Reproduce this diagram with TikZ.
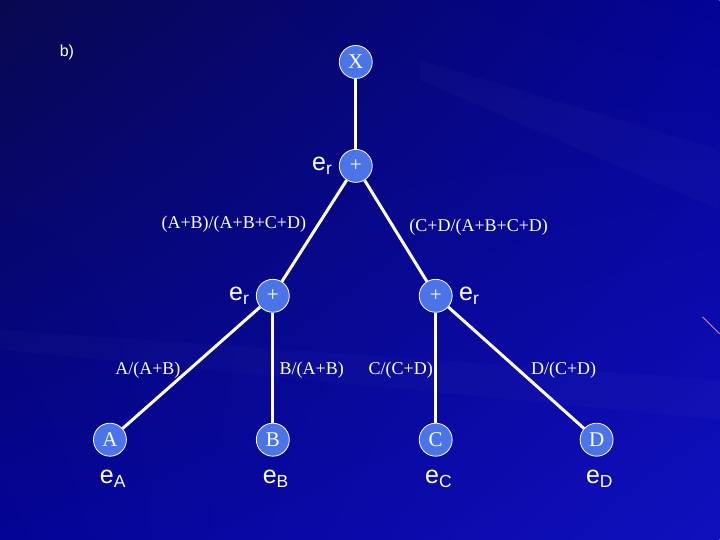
\documentclass[tikz,border=0pt]{standalone}
\usepackage{fontspec}
\setmainfont{Liberation Serif}
\setsansfont{Liberation Sans}
\usetikzlibrary{positioning,shadings}
\definecolor{bgdark}{RGB}{8,8,80}
\definecolor{bgmid}{RGB}{4,4,150}
\definecolor{bglight}{RGB}{16,16,190}
\definecolor{nodeblue}{RGB}{74,116,232}
\begin{document}
\begin{tikzpicture}[x=1pt,y=-1pt,
  vertex/.style={circle,draw=white,line width=0.8pt,fill=nodeblue,text=white,
    minimum size=33pt,inner sep=0pt,font=\fontsize{21}{21}\selectfont},
  edge/.style={white,line width=3pt},
  ratio/.style={text=white,font=\fontsize{18}{18}\selectfont},
  errlabel/.style={text=white,font=\sffamily\fontsize{25}{25}\selectfont}]
  % Background
  \shade[upper left=bgdark,upper right=bgmid,lower left=bgmid,lower right=bglight]
    (0,0) rectangle (720,540);
  \fill[white,opacity=0.025] (420,60) -- (720,150) -- (720,210) -- (420,80) -- cycle;
  \fill[white,opacity=0.02] (0,330) -- (720,380) -- (720,420) -- (0,350) -- cycle;
  \draw[pink!70!violet,line width=1pt] (703,317) -- (720,334);
  \useasboundingbox (0,0) rectangle (720,540);
  % Nodes
  \node[vertex] (x) at (356,62) {X};
  \node[vertex] (top) at (356,166) {+};
  \node[vertex] (left) at (273,296) {+};
  \node[vertex] (right) at (436,296) {+};
  \foreach \n/\xx in {A/110,B/273,C/436,D/597} {
    \node[vertex] (\n) at (\xx,440) {\n};
    \node[errlabel] (e\n) at (\xx+3,479) {e\textsubscript{\n}};
  }
  % Edges
  \draw[edge] (x) -- (top);
  \draw[edge] (top) -- (left);
  \draw[edge] (top) -- (right);
  \draw[edge] (left) -- (A);
  \draw[edge] (left) -- (B);
  \draw[edge] (right) -- (C);
  \draw[edge] (right) -- (D);
  % Labels
  \node[errlabel,left=3pt of top] (ertop) {e\textsubscript{r}};
  \node[errlabel,left=3pt of left] (erleft) {e\textsubscript{r}};
  \node[errlabel,right=3pt of right] (erright) {e\textsubscript{r}};
  \node[ratio] (ab) at (234,224) {(A+B)/(A+B+C+D)};
  \node[ratio] (cd) at (479,227) {(C+D/(A+B+C+D)};
  \node[ratio] (la) at (148,370) {A/(A+B)};
  \node[ratio] (lb) at (312,370) {B/(A+B)};
  \node[ratio] (lc) at (401,370) {C/(C+D)};
  \node[ratio] (ld) at (564,370) {D/(C+D)};
  \node[text=white,font=\sffamily\fontsize{16}{16}\selectfont] (part) at (67,52) {b)};
\end{tikzpicture}
\end{document}
